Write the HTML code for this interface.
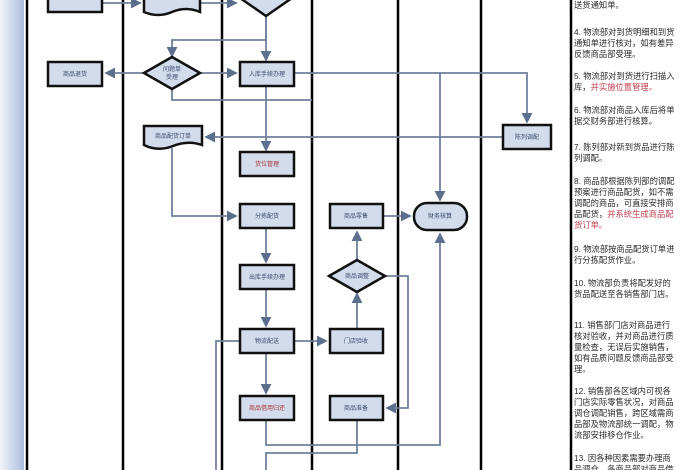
<!DOCTYPE html>
<html><head><meta charset="utf-8"><style>
html,body{margin:0;padding:0;background:#fff;}
svg{display:block;font-family:"Liberation Sans","Noto Sans CJK SC",sans-serif;}
.t{font-size:6px;fill:#3a4a6a;text-anchor:middle;}
.r{font-size:8.3px;fill:#2a2a2a;}
.c{stroke:#6f819c;stroke-width:1.8;fill:none;}
.box{fill:#d3dcec;stroke:#111;stroke-width:2.5;}
</style></head><body>
<svg width="700" height="470" viewBox="0 0 700 470">
<defs>
<linearGradient id="g" x1="0" x2="1"><stop offset="0" stop-color="#f2f5fb"/><stop offset="1" stop-color="#aabddd"/></linearGradient>
<marker id="a" markerWidth="6" markerHeight="6" refX="5" refY="3" orient="auto"><path d="M0,0L6,3L0,6z" fill="#5c6f8c"/></marker>
</defs>
<rect x="0" y="0" width="24" height="470" fill="url(#g)"/>
<g stroke="#000" stroke-width="2.5">
<line x1="27" y1="0" x2="27" y2="470"/><line x1="123" y1="0" x2="123" y2="470"/>
<line x1="222" y1="0" x2="222" y2="470"/><line x1="312" y1="0" x2="312" y2="470"/>
<line x1="398" y1="0" x2="398" y2="470"/><line x1="481" y1="0" x2="481" y2="470"/>
<line x1="571" y1="0" x2="571" y2="470"/>
</g>
<g class="c">
<path d="M102,3H140" marker-end="url(#a)"/><path d="M200,3H236" marker-end="url(#a)"/>
<path d="M266,16V40H172V56" marker-end="url(#a)"/>
<path d="M266,16V60" marker-end="url(#a)"/>
<path d="M144,73H106" marker-end="url(#a)"/>
<path d="M200,73H236" marker-end="url(#a)"/>
<path d="M294,73H527V122" marker-end="url(#a)"/>
<path d="M440,73V200" marker-end="url(#a)"/>
<path d="M266,86V150" marker-end="url(#a)"/>
<path d="M312,100H172V90"/>
<path d="M503,137H206" marker-end="url(#a)"/>
<path d="M172,148V216H236" marker-end="url(#a)"/>
<path d="M266,228V262" marker-end="url(#a)"/>
<path d="M266,289V326" marker-end="url(#a)"/>
<path d="M266,353V393" marker-end="url(#a)"/>
<path d="M294,341H326" marker-end="url(#a)"/>
<path d="M357,329V294" marker-end="url(#a)"/>
<path d="M357,260V232" marker-end="url(#a)"/>
<path d="M383,216H410" marker-end="url(#a)"/>
<path d="M385,276H408V408H387" marker-end="url(#a)"/>
<path d="M240,341H216V470"/>
<path d="M266,420V445H440V234" marker-end="url(#a)"/>
<path d="M357,420V453H266V470"/>
</g>
<rect class="box" x="48" y="-6" width="54" height="18"/>
<path class="box" d="M144,-6H200V12Q186,6 172,12T144,12Z"/>
<path class="box" d="M240,-2L266,16L292,-2Z"/>
<rect class="box" x="48" y="62" width="54" height="24"/><text class="t" x="75" y="76">商品退货</text>
<path class="box" d="M144,73L172,57L200,73L172,89Z"/><text class="t" x="172" y="71">问题单</text><text class="t" x="172" y="79">受理</text>
<rect class="box" x="240" y="62" width="54" height="24"/><text class="t" x="267" y="76">入库手续办理</text>
<path class="box" d="M144,126H202V145Q188,140 173,146T144,145Z"/><text class="t" x="173" y="138">商品配货订单</text>
<rect class="box" x="503" y="125" width="48" height="24"/><text class="t" x="527" y="139">陈列调配</text>
<rect class="box" x="240" y="152" width="54" height="24"/><text class="t" x="267" y="166" style="fill:#a33">货位管理</text>
<rect class="box" x="240" y="204" width="54" height="24"/><text class="t" x="267" y="218">分拣配货</text>
<rect class="box" x="330" y="204" width="53" height="24"/><text class="t" x="356" y="218">商品零售</text>
<rect class="box" x="414" y="203" width="53" height="27" rx="13"/><text class="t" x="440" y="218">财务核算</text>
<rect class="box" x="240" y="265" width="54" height="24"/><text class="t" x="267" y="279">出库手续办理</text>
<path class="box" d="M329,276L357,260L385,276L357,292Z"/><text class="t" x="357" y="278">商品调整</text>
<rect class="box" x="240" y="329" width="54" height="24"/><text class="t" x="267" y="343">物流配送</text>
<rect class="box" x="330" y="329" width="53" height="24"/><text class="t" x="356" y="343">门店验收</text>
<rect class="box" x="240" y="396" width="54" height="24"/><text class="t" x="267" y="410" style="fill:#a33">商品借用归还</text>
<rect class="box" x="330" y="396" width="53" height="24"/><text class="t" x="356" y="410">商品准备</text>
<g class="r">
<text x="574" y="8">送货通知单。</text>
<text x="574" y="35">4. 物流部对到货明细和到货</text><text x="574" y="46">通知单进行核对，如有差异</text><text x="574" y="57">反馈商品部受理。</text>
<text x="574" y="79">5. 物流部对到货进行扫描入</text><text x="574" y="90">库，<tspan fill="#c04050">并实施位置管理。</tspan></text>
<text x="574" y="113">6. 物流部对商品入库后将单</text><text x="574" y="124">据交财务部进行核算。</text>
<text x="574" y="150">7. 陈列部对新到货品进行陈</text><text x="574" y="161">列调配。</text>
<text x="574" y="184">8. 商品部根据陈列部的调配</text><text x="574" y="195">预案进行商品配货，如不需</text><text x="574" y="206">调配的商品，可直接安排商</text><text x="574" y="217">品配货，<tspan fill="#c04050">并系统生成商品配</tspan></text><text x="574" y="228" fill="#c04050">货订单。</text>
<text x="574" y="252">9. 物流部按商品配货订单进</text><text x="574" y="263">行分拣配货作业。</text>
<text x="574" y="286">10. 物流部负责将配发好的</text><text x="574" y="297">货品配送至各销售部门店。</text>
<text x="574" y="328">11. 销售部门店对商品进行</text><text x="574" y="339">核对验收，并对商品进行质</text><text x="574" y="350">量检查，无误后实施销售，</text><text x="574" y="361">如有品质问题反馈商品部受</text><text x="574" y="372">理。</text>
<text x="574" y="394">12. 销售部各区域内可视各</text><text x="574" y="405">门店实际零售状况，对商品</text><text x="574" y="416">调仓调配销售，跨区域需商</text><text x="574" y="427">品部及物流部统一调配，物</text><text x="574" y="438">流部安排移仓作业。</text>
<text x="574" y="461">13. 因各种因素需要办理商</text><text x="574" y="472">品调仓，各商品部对商品借</text>
</g>
</svg>
</body></html>
